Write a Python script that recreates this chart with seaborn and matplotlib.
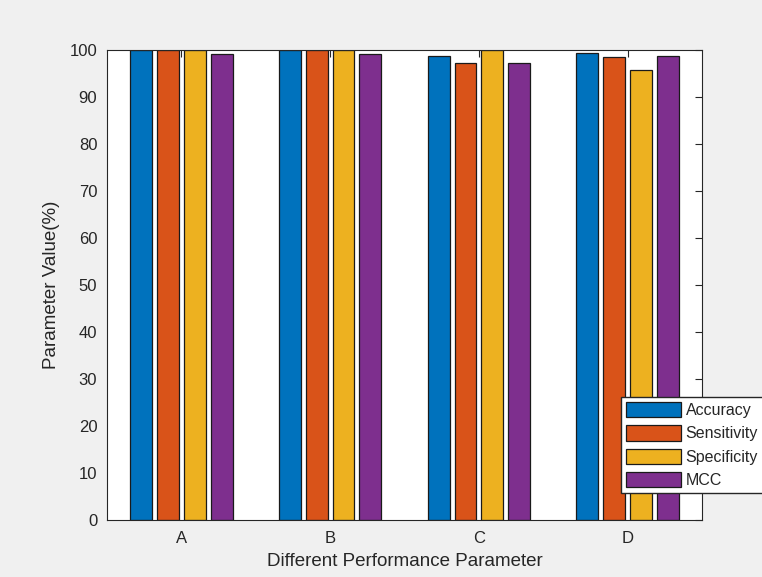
import matplotlib
matplotlib.use("Agg")
import matplotlib.pyplot as plt
import seaborn as sns
import pandas as pd

groups = ["A", "B", "C", "D"]
metrics = ["Accuracy", "Sensitivity", "Specificity", "MCC"]
accuracy = [99.95, 99.9, 98.7, 99.4]
sensitivity = [99.95, 99.9, 97.3, 98.5]
specificity = [100.0, 100.0, 100.0, 95.8]
mcc = [99.15, 99.1, 97.3, 98.7]
colors = ["#0072BD", "#D95319", "#EDB120", "#7E2F8E"]

df = pd.DataFrame({
    "group": groups * 4,
    "metric": [m for m in metrics for _ in groups],
    "value": accuracy + sensitivity + specificity + mcc,
})

sns.set_style("white")
plt.rcParams["font.family"] = ["Liberation Sans", "DejaVu Sans"]
text_col = "#262626"

fig = plt.figure(figsize=(7.62, 5.77), dpi=100, facecolor="#f0f0f0")
ax = fig.add_axes([107 / 762, 1 - 520 / 577, (702 - 107) / 762, (520 - 50) / 577])
ax.set_facecolor("white")

sns.barplot(data=df, x="group", y="value", hue="metric", hue_order=metrics,
            order=groups, palette=colors, width=0.72, gap=0.18, saturation=1,
            edgecolor="#1a1a1a", linewidth=0.9, errorbar=None, ax=ax)

ax.set_xlim(-0.5, 3.5)
ax.set_ylim(0, 100)
ax.set_yticks(range(0, 101, 10))
ax.tick_params(direction="in", length=5, width=0.8, colors=text_col,
               labelsize=12, top=True, right=True, labelcolor=text_col)
ax.tick_params(axis="x", pad=8)
ax.tick_params(axis="y", pad=7)
for s in ax.spines.values():
    s.set_color(text_col)
    s.set_linewidth(0.8)
    s.set_visible(True)

ax.set_xlabel("Different Performance Parameter", fontsize=13.5, color=text_col, labelpad=5)
ax.set_ylabel("Parameter Value(%)", fontsize=13.5, color=text_col, labelpad=7)

handles, labels = ax.get_legend_handles_labels()
ax.legend(handles, labels, loc="upper left",
          bbox_to_anchor=(621 / 762, 1 - 397 / 577), bbox_transform=fig.transFigure,
          fontsize=11.5, frameon=True, fancybox=False, edgecolor="#262626",
          framealpha=1, handlelength=3.45, handleheight=1.1, handletextpad=0.3,
          labelspacing=0.46, borderpad=0.3, borderaxespad=0)

fig.savefig("out.png", dpi=100, facecolor=fig.get_facecolor())
